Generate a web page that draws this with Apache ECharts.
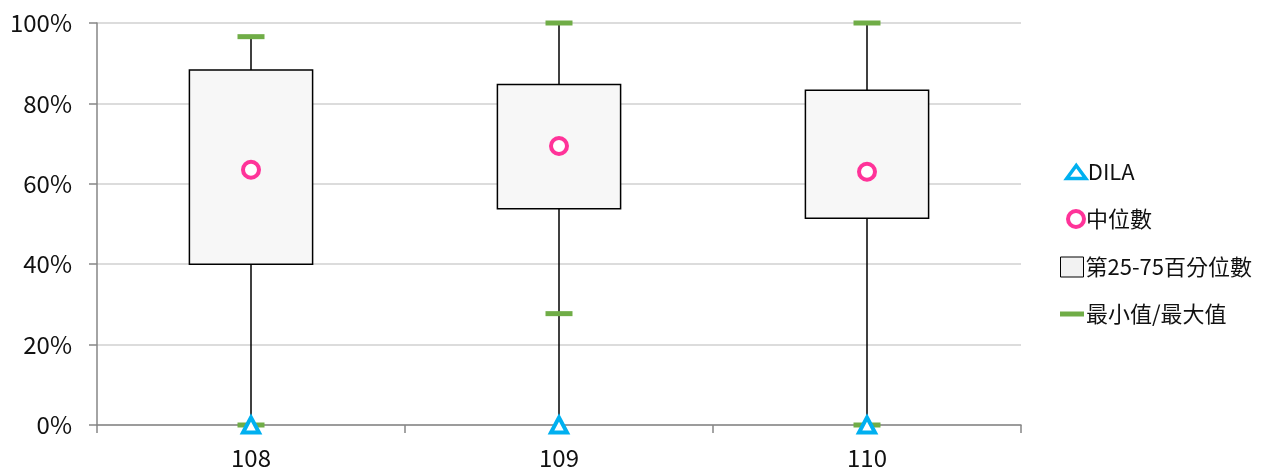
<!DOCTYPE html>
<html>
<head>
<meta charset="utf-8">
<script src="https://cdn.jsdelivr.net/npm/echarts@6/dist/echarts.min.js"></script>
<style>
  html, body { margin: 0; padding: 0; background: #fff; }
  #chart { width: 1275px; height: 470px; }
</style>
</head>
<body>
<div id="chart"></div>
<script>
// 各年度資料（百分比）
var categories = ['108', '109', '110'];
var dilaValues = [0, 0, 0];
var medianValues = [63.5, 69.4, 63.0];
var q1Values = [40.0, 53.8, 51.4];
var q3Values = [88.3, 84.7, 83.3];
var minValues = [0, 27.7, 0];
var maxValues = [96.6, 100, 100];
var yTicks = [0, 20, 40, 60, 80, 100];

var FONT = "'Noto Sans CJK TC', 'Noto Sans', sans-serif";

// 箱子資料：[index, 下端, Q1, Q3, 上端]
var boxData = categories.map(function (c, i) {
  return [i, Math.min(minValues[i], dilaValues[i]), q1Values[i], q3Values[i], maxValues[i]];
});

var chart = echarts.init(document.getElementById('chart'));

function legendItem(top, left, w, h, item) {
  return {
    orient: 'vertical',
    top: top,
    left: left,
    itemWidth: w,
    itemHeight: h,
    selectedMode: false,
    textStyle: { fontFamily: FONT, fontSize: 22, color: '#111', lineHeight: 24, padding: [0, 0, 0, -3] },
    data: [item]
  };
}

var option = {
  animation: false,
  grid: { left: 97, right: 254, top: 23, bottom: 45 },
  legend: [
    legendItem(155, 1060, 19, 13, {
      name: 'DILA', icon: 'triangle',
      itemStyle: { color: '#fff', borderColor: '#00B0F0', borderWidth: 3.5 }
    }),
    legendItem(202, 1061, 16, 16, {
      name: '中位數', icon: 'circle',
      itemStyle: { color: '#fff', borderColor: '#FF3399', borderWidth: 4 }
    }),
    legendItem(250, 1055, 23, 20, {
      name: '第25-75百分位數', icon: 'rect',
      itemStyle: { color: '#F2F2F2', borderColor: '#000', borderWidth: 1 }
    }),
    legendItem(297, 1055, 24, 5, {
      name: '最小值/最大值', icon: 'rect',
      itemStyle: { color: '#70AD47', borderWidth: 0 }
    })
  ],
  xAxis: {
    type: 'category',
    data: categories,
    axisLine: { lineStyle: { color: '#868686', width: 1.5 } },
    axisTick: { show: true, length: 8, lineStyle: { color: '#868686', width: 1.5 } },
    axisLabel: { fontFamily: FONT, fontSize: 24, color: '#111', margin: 21 },
    splitLine: { show: false }
  },
  yAxis: {
    type: 'value',
    min: 0,
    max: 100,
    interval: 20,
    axisLine: { show: true, lineStyle: { color: '#868686', width: 1.5 } },
    axisTick: { show: true, length: 8, lineStyle: { color: '#868686', width: 1.5 } },
    axisLabel: {
      fontFamily: FONT, fontSize: 24, color: '#111', margin: 25,
      formatter: function (v) { return yTicks.indexOf(v) >= 0 ? v + '%' : ''; }
    },
    splitLine: { lineStyle: { color: '#D0D0D0', width: 1.5 } }
  },
  series: [
    {
      name: '第25-75百分位數',
      type: 'custom',
      z: 2,
      renderItem: function (params, api) {
        var x = api.value(0);
        var lo = api.coord([x, api.value(1)]);
        var q1 = api.coord([x, api.value(2)]);
        var q3 = api.coord([x, api.value(3)]);
        var hi = api.coord([x, api.value(4)]);
        var w = api.size([1, 0])[0] * 0.4;
        return {
          type: 'group',
          children: [
            {
              type: 'line',
              shape: { x1: lo[0], y1: lo[1], x2: hi[0], y2: hi[1] },
              style: { stroke: '#000', lineWidth: 1.5 }
            },
            {
              type: 'rect',
              shape: { x: q1[0] - w / 2, y: q3[1], width: w, height: q1[1] - q3[1] },
              style: { fill: '#F7F7F7', stroke: '#000', lineWidth: 1.5 }
            }
          ]
        };
      },
      encode: { x: 0, y: [1, 2, 3, 4] },
      data: boxData
    },
    {
      name: '最小值/最大值',
      type: 'scatter',
      z: 3,
      symbol: 'rect',
      symbolSize: [27, 5],
      itemStyle: { color: '#70AD47', opacity: 1 },
      data: maxValues
    },
    {
      name: '最小值/最大值',
      type: 'scatter',
      z: 3,
      symbol: 'rect',
      symbolSize: [27, 5],
      itemStyle: { color: '#70AD47', opacity: 1 },
      data: minValues
    },
    {
      name: '中位數',
      type: 'scatter',
      z: 4,
      symbol: 'circle',
      symbolSize: 16,
      itemStyle: { color: '#fff', borderColor: '#FF3399', borderWidth: 4, opacity: 1 },
      data: medianValues
    },
    {
      name: 'DILA',
      type: 'scatter',
      z: 5,
      symbol: 'triangle',
      symbolSize: [16, 15],
      itemStyle: { color: '#fff', borderColor: '#00B0F0', borderWidth: 4, opacity: 1 },
      data: dilaValues
    }
  ]
};

chart.setOption(option);
</script>
</body>
</html>
